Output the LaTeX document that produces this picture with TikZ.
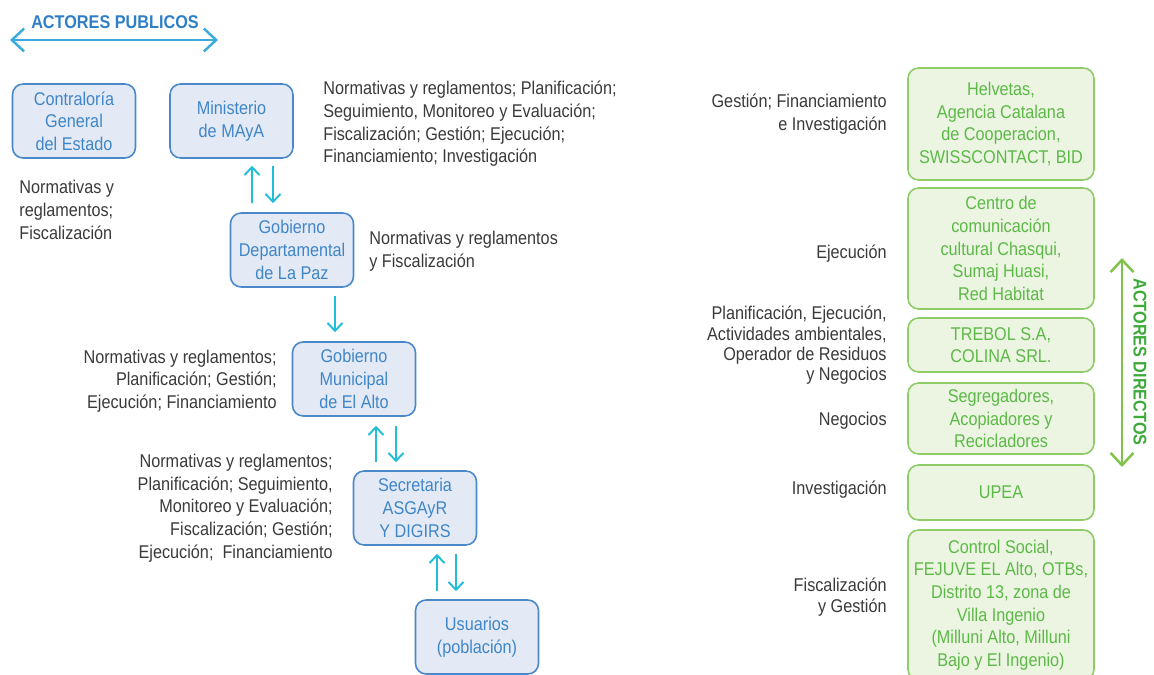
\documentclass[tikz,border=0pt]{standalone}
\usepackage{fontspec}
\setmainfont{Liberation Sans}[FakeStretch=0.88]
\usetikzlibrary{arrows.meta,calc}
\definecolor{publine}{HTML}{4A88CA}
\definecolor{pubfill}{HTML}{E4EAF5}
\definecolor{pubtext}{HTML}{3F86C8}
\definecolor{pubhead}{HTML}{2F7FC6}
\definecolor{pubarrow}{HTML}{3AAADF}
\definecolor{flowcyan}{HTML}{22BDD7}
\definecolor{dirline}{HTML}{8FCB66}
\definecolor{dirfill}{HTML}{EBF5E2}
\definecolor{dirtext}{HTML}{5DB947}
\definecolor{dirhead}{HTML}{3DAA3A}
\definecolor{dirarrow}{HTML}{80C24A}
\definecolor{notegray}{HTML}{3A3A3A}
\begin{document}
\begin{tikzpicture}[x=0.02cm,y=-0.02cm,>={Straight Barb[length=4.5pt,width=8.5pt]}]
    \tikzstyle{txt}=[font=\fontsize{10.5}{12.9}\selectfont]
    \tikzstyle{pub}=[txt,draw=publine,fill=pubfill,text=pubtext,line width=0.9pt,rounded corners=6pt,align=center,minimum width=2.46cm,minimum height=1.48cm,inner sep=1pt]
    \tikzstyle{dir}=[txt,draw=dirline,fill=dirfill,text=dirtext,line width=0.9pt,rounded corners=6pt,align=center,minimum width=3.72cm,inner sep=1pt]
    \tikzstyle{note}=[txt,text=notegray,inner sep=0pt]
    \tikzstyle{tight}=[font=\fontsize{10.5}{11.6}\selectfont]
    \tikzstyle{flow}=[->,draw=flowcyan,line width=1.1pt]
    \useasboundingbox (0,0) rectangle (1154,675);

      \coordinate (pubL) at (10,40);
      \coordinate (pubR) at (218,40);
      \draw[<->,draw=pubarrow,line width=1.4pt,>={Straight Barb[length=7pt,width=13pt]}] (pubL) -- (pubR);
      \node (pubhead) at (115,22) [font=\fontsize{10.5}{12}\selectfont\bfseries,text=pubhead] {ACTORES PUBLICOS};

      \node (contr) at (74,121)   [pub] {Contraloría\\General\\del Estado};
      \node (mini)  at (231.5,121) [pub] {Ministerio\\de MAyA};
      \node (dept)  at (292,250)  [pub] {Gobierno\\Departamental\\de La Paz};
      \node (mun)   at (354,379)  [pub] {Gobierno\\Municipal\\de El Alto};
      \node (sec)   at (415,508)  [pub] {Secretaria\\ASGAyR\\Y DIGIRS};
      \node (usu)   at (477,637)  [pub] {Usuarios\\(población)};

      \node (contrnote) at (19,210)  [note,anchor=west,align=left] {Normativas y\\reglamentos;\\Fiscalización};
      \node (mininote)  at (323,124) [note,anchor=west,align=left] {Normativas y reglamentos; Planificación;\\Seguimiento, Monitoreo y Evaluación;\\Fiscalización; Gestión; Ejecución;\\Financiamiento; Investigación};
      \node (deptnote)  at (369,251) [note,anchor=west,align=left] {Normativas y reglamentos\\y Fiscalización};
      \node (munnote)   at (277,381) [note,anchor=east,align=right] {Normativas y reglamentos;\\Planificación; Gestión;\\Ejecución; Financiamiento};
      \node (secnote)   at (333,508) [note,anchor=east,align=right] {Normativas y reglamentos;\\Planificación; Seguimiento,\\Monitoreo y Evaluación;\\Fiscalización; Gestión;\\Ejecución;\ \ Financiamiento};

      \draw[flow] ($(dept.north)+(-40,-9)$) -- ($(mini.south)+(20.5,7)$);
      \draw[flow] ($(mini.south)+(41.5,7)$) -- ($(dept.north)+(-19,-9)$);
      \draw[flow] ($(dept.south)+(43,8)$) -- ($(mun.north)+(-19,-9)$);
      \draw[flow] ($(sec.north)+(-39,-8)$) -- ($(mun.south)+(22,9)$);
      \draw[flow] ($(mun.south)+(42,9)$) -- ($(sec.north)+(-19,-8)$);
      \draw[flow] ($(usu.north)+(-40,-8)$) -- ($(sec.south)+(22,8)$);
      \draw[flow] ($(sec.south)+(41,8)$) -- ($(usu.north)+(-21,-8)$);

      \node (helv)   at (1001,124)   [dir,minimum height=2.24cm] {Helvetas,\\Agencia Catalana\\de Cooperacion,\\SWISSCONTACT, BID};
      \node (centro) at (1001,248.5) [dir,minimum height=2.42cm] {Centro de\\comunicación\\cultural Chasqui,\\Sumaj Huasi,\\Red Habitat};
      \node (trebol) at (1001,345)   [dir,minimum height=1.08cm] {TREBOL S.A,\\COLINA SRL.};
      \node (segr)   at (1001,418.5) [dir,minimum height=1.42cm] {Segregadores,\\Acopiadores y\\Recicladores};
      \node (upea)   at (1001,492.5) [dir,minimum height=1.10cm] {UPEA};
      \node (ctrl)   at (1001,605)   [dir,minimum height=3.00cm] {Control Social,\\FEJUVE EL Alto, OTBs,\\Distrito 13, zona de\\Villa Ingenio\\(Milluni Alto, Milluni\\Bajo y El Ingenio)};

      \node (helvnote)   at (887,114)   [note,anchor=east,align=right] {Gestión; Financiamiento\\e Investigación};
      \node (centronote) at (887,254)   [note,anchor=east,align=right] {Ejecución};
      \node (trebolnote) at (887,345.5) [note,tight,anchor=east,align=right] {Planificación, Ejecución,\\Actividades ambientales,\\Operador de Residuos\\y Negocios};
      \node (segrnote)   at (887,421)   [note,anchor=east,align=right] {Negocios};
      \node (upeanote)   at (887,490)   [note,anchor=east,align=right] {Investigación};
      \node (ctrlnote)   at (887,597)   [note,tight,anchor=east,align=right] {Fiscalización\ \\y Gestión};

      \coordinate (dirT) at (1122,258);
      \coordinate (dirB) at (1122,467);
      \draw[<->,draw=dirarrow,line width=1.4pt,>={Straight Barb[length=7pt,width=13pt]}] (dirT) -- (dirB);
      \node (dirhead) at (1140,362) [rotate=-90,font=\fontsize{10.5}{12}\selectfont\bfseries,text=dirhead] {ACTORES DIRECTOS};
  \end{tikzpicture}
\end{document}
